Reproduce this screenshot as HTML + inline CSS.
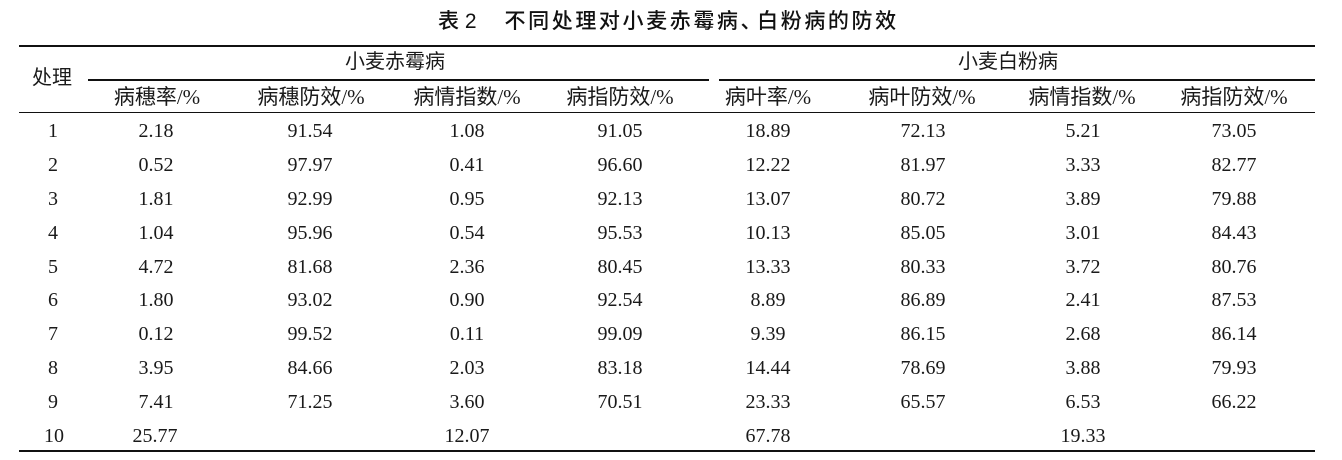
<!DOCTYPE html>
<html>
<head>
<meta charset="utf-8">
<style>
  html, body { margin:0; padding:0; background:#fff; }
  body { width:1342px; height:460px; position:relative; overflow:hidden; color:#1a1a1a; }
  .t { position:absolute; width:200px; margin-left:-100px; text-align:center; line-height:24px; height:24px; white-space:nowrap;
       font-family:"Liberation Serif", "Noto Sans CJK SC", serif; font-size:20px; }
  .h { font-size:21px; }
  .g { font-size:20px; }
  .ln { position:absolute; background:#111; }
  .title { position:absolute; top:9px; left:438px; height:26px; line-height:26px; white-space:nowrap;
       font-family:"Liberation Sans", "Noto Sans CJK SC", sans-serif; font-size:21px; font-weight:500; color:#111; }
</style>
</head>
<body>
<div class="title"><span>表 2</span><span style="display:inline-block;width:28px"></span><span style="letter-spacing:2.6px">不同处理对小麦赤霉病<span style="margin-right:-7px">、</span>白粉病的防效</span></div>

<div class="ln" style="left:19px;top:45px;width:1296px;height:2px"></div>
<div class="ln" style="left:88px;top:79px;width:621px;height:2px"></div>
<div class="ln" style="left:719px;top:79px;width:596px;height:2px"></div>
<div class="ln" style="left:19px;top:112px;width:1296px;height:1px"></div>
<div class="ln" style="left:19px;top:450px;width:1296px;height:2px"></div>

<div class="t g" style="left:395px;top:50px">小麦赤霉病</div>
<div class="t g" style="left:1008px;top:50px">小麦白粉病</div>
<div class="t g" style="left:52px;top:66px">处理</div>

<div class="t h" style="left:157px;top:85px">病穗率/%</div>
<div class="t h" style="left:311px;top:85px">病穗防效/%</div>
<div class="t h" style="left:467px;top:85px">病情指数/%</div>
<div class="t h" style="left:620px;top:85px">病指防效/%</div>
<div class="t h" style="left:768px;top:85px">病叶率/%</div>
<div class="t h" style="left:922px;top:85px">病叶防效/%</div>
<div class="t h" style="left:1082px;top:85px">病情指数/%</div>
<div class="t h" style="left:1234px;top:85px">病指防效/%</div>

<!-- row 1 -->
<div class="t" style="left:53px;top:119px">1</div>
<div class="t" style="left:156px;top:119px">2.18</div>
<div class="t" style="left:310px;top:119px">91.54</div>
<div class="t" style="left:467px;top:119px">1.08</div>
<div class="t" style="left:620px;top:119px">91.05</div>
<div class="t" style="left:768px;top:119px">18.89</div>
<div class="t" style="left:923px;top:119px">72.13</div>
<div class="t" style="left:1083px;top:119px">5.21</div>
<div class="t" style="left:1234px;top:119px">73.05</div>
<!-- row 2 -->
<div class="t" style="left:53px;top:153px">2</div>
<div class="t" style="left:156px;top:153px">0.52</div>
<div class="t" style="left:310px;top:153px">97.97</div>
<div class="t" style="left:467px;top:153px">0.41</div>
<div class="t" style="left:620px;top:153px">96.60</div>
<div class="t" style="left:768px;top:153px">12.22</div>
<div class="t" style="left:923px;top:153px">81.97</div>
<div class="t" style="left:1083px;top:153px">3.33</div>
<div class="t" style="left:1234px;top:153px">82.77</div>
<!-- row 3 -->
<div class="t" style="left:53px;top:187px">3</div>
<div class="t" style="left:156px;top:187px">1.81</div>
<div class="t" style="left:310px;top:187px">92.99</div>
<div class="t" style="left:467px;top:187px">0.95</div>
<div class="t" style="left:620px;top:187px">92.13</div>
<div class="t" style="left:768px;top:187px">13.07</div>
<div class="t" style="left:923px;top:187px">80.72</div>
<div class="t" style="left:1083px;top:187px">3.89</div>
<div class="t" style="left:1234px;top:187px">79.88</div>
<!-- row 4 -->
<div class="t" style="left:53px;top:221px">4</div>
<div class="t" style="left:156px;top:221px">1.04</div>
<div class="t" style="left:310px;top:221px">95.96</div>
<div class="t" style="left:467px;top:221px">0.54</div>
<div class="t" style="left:620px;top:221px">95.53</div>
<div class="t" style="left:768px;top:221px">10.13</div>
<div class="t" style="left:923px;top:221px">85.05</div>
<div class="t" style="left:1083px;top:221px">3.01</div>
<div class="t" style="left:1234px;top:221px">84.43</div>
<!-- row 5 -->
<div class="t" style="left:53px;top:255px">5</div>
<div class="t" style="left:156px;top:255px">4.72</div>
<div class="t" style="left:310px;top:255px">81.68</div>
<div class="t" style="left:467px;top:255px">2.36</div>
<div class="t" style="left:620px;top:255px">80.45</div>
<div class="t" style="left:768px;top:255px">13.33</div>
<div class="t" style="left:923px;top:255px">80.33</div>
<div class="t" style="left:1083px;top:255px">3.72</div>
<div class="t" style="left:1234px;top:255px">80.76</div>
<!-- row 6 -->
<div class="t" style="left:53px;top:288px">6</div>
<div class="t" style="left:156px;top:288px">1.80</div>
<div class="t" style="left:310px;top:288px">93.02</div>
<div class="t" style="left:467px;top:288px">0.90</div>
<div class="t" style="left:620px;top:288px">92.54</div>
<div class="t" style="left:768px;top:288px">8.89</div>
<div class="t" style="left:923px;top:288px">86.89</div>
<div class="t" style="left:1083px;top:288px">2.41</div>
<div class="t" style="left:1234px;top:288px">87.53</div>
<!-- row 7 -->
<div class="t" style="left:53px;top:322px">7</div>
<div class="t" style="left:156px;top:322px">0.12</div>
<div class="t" style="left:310px;top:322px">99.52</div>
<div class="t" style="left:467px;top:322px">0.11</div>
<div class="t" style="left:620px;top:322px">99.09</div>
<div class="t" style="left:768px;top:322px">9.39</div>
<div class="t" style="left:923px;top:322px">86.15</div>
<div class="t" style="left:1083px;top:322px">2.68</div>
<div class="t" style="left:1234px;top:322px">86.14</div>
<!-- row 8 -->
<div class="t" style="left:53px;top:356px">8</div>
<div class="t" style="left:156px;top:356px">3.95</div>
<div class="t" style="left:310px;top:356px">84.66</div>
<div class="t" style="left:467px;top:356px">2.03</div>
<div class="t" style="left:620px;top:356px">83.18</div>
<div class="t" style="left:768px;top:356px">14.44</div>
<div class="t" style="left:923px;top:356px">78.69</div>
<div class="t" style="left:1083px;top:356px">3.88</div>
<div class="t" style="left:1234px;top:356px">79.93</div>
<!-- row 9 -->
<div class="t" style="left:53px;top:390px">9</div>
<div class="t" style="left:156px;top:390px">7.41</div>
<div class="t" style="left:310px;top:390px">71.25</div>
<div class="t" style="left:467px;top:390px">3.60</div>
<div class="t" style="left:620px;top:390px">70.51</div>
<div class="t" style="left:768px;top:390px">23.33</div>
<div class="t" style="left:923px;top:390px">65.57</div>
<div class="t" style="left:1083px;top:390px">6.53</div>
<div class="t" style="left:1234px;top:390px">66.22</div>
<!-- row 10 -->
<div class="t" style="left:54px;top:424px">10</div>
<div class="t" style="left:155px;top:424px">25.77</div>
<div class="t" style="left:467px;top:424px">12.07</div>
<div class="t" style="left:768px;top:424px">67.78</div>
<div class="t" style="left:1083px;top:424px">19.33</div>
</body>
</html>
